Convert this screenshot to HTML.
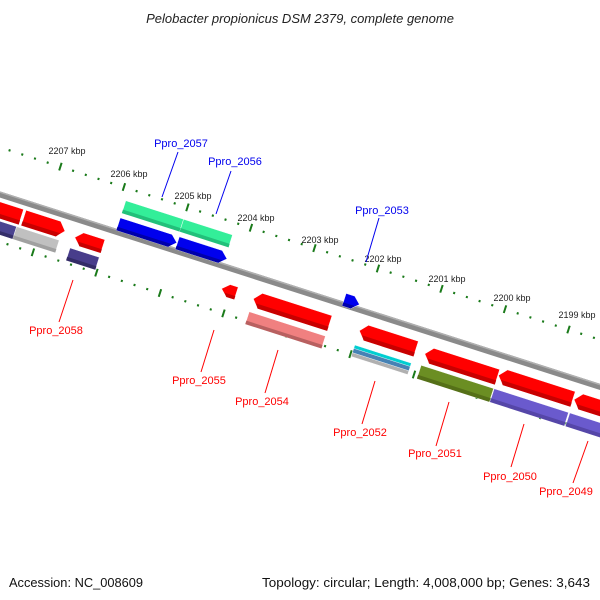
<!DOCTYPE html>
<html><head><meta charset="utf-8"><style>
html,body{margin:0;padding:0;background:#fff;}
svg{display:block;font-family:"Liberation Sans","DejaVu Sans",sans-serif;}
</style></head><body>
<svg id="chart" width="600" height="600" viewBox="0 0 600 600" xmlns="http://www.w3.org/2000/svg">
<rect width="600" height="600" fill="#fff"/>
<text x="300" y="23" text-anchor="middle" font-size="13" font-style="italic" fill="#222">Pelobacter propionicus DSM 2379, complete genome</text>
<g id="rot" transform="translate(0,194.5) rotate(17.78)"></g>
<g id="labels"></g>
<text x="9" y="587" font-size="13" fill="#111" textLength="134" lengthAdjust="spacingAndGlyphs">Accession: NC_008609</text>
<text x="262" y="587" font-size="13" fill="#111" textLength="328" lengthAdjust="spacingAndGlyphs">Topology: circular; Length: 4,008,000 bp; Genes: 3,643</text>
</svg>
<script>
const kbpTicks=[2207,2206,2205,2204,2203,2202,2201,2200,2199];
const kbpLabelPos=[[67,154],[129,177],[193,199],[256,221],[320,243],[383,262],[447,282],[512,301],[577,318]];
const geneStart=[2208.7,2207.29,2208.7,2207.35,2206.47,2206.49,2205.91,2205.0,2205.91,2204.98,2204.14,2203.64,2203.64,2202.34,2201.98,2201.98,2201.98,2201.98,2200.94,2200.94,2199.79,2199.79,2198.60,2198.60];
const geneEnd=[2207.33,2206.64,2207.35,2206.68,2206.03,2206.03,2205.0,2204.23,2204.99,2204.20,2203.91,2202.44,2202.44,2202.10,2201.09,2201.09,2201.09,2201.09,2199.80,2199.80,2198.62,2198.62,2196.9,2196.9];
const geneTrack=[15,15,32,32,18,36,-26,-26,-8,-8,22,22,42,-5,20,37,41,45,22,41,20,41,20,41];
const geneHeight=[16,16,13,13,14,13,13,13,13,13,13,16,13,13,16,4,5,4,16,14,16,14,16,14];
const geneDir=[0,1,0,0,-1,0,0,0,1,1,-1,-1,0,1,-1,0,0,0,-1,0,-1,0,-1,0];
const geneColor=["#ff0000","#ff0000","#4b4490","#c0c0c0","#ff0000","#483d8b","#33ee99","#33ee99","#0000ee","#0000ee","#ff0000","#ff0000","#f08080","#0000ee","#ff0000","#00ced1","#4682b4","#b0b0b0","#ff0000","#6b8e23","#ff0000","#6a5acd","#ff0000","#6a5acd"];
const geneDark=["#c80000","#c80000","#352f6a","#a0a0a0","#c80000","#332b66","#22c07a","#22c07a","#0000aa","#0000aa","#c80000","#c80000","#b86060","#0000aa","#c80000","#00aab0","#36648b","#909090","#c80000","#557018","#c80000","#5546a8","#c80000","#5546a8"];
const labelNames=["Ppro_2057","Ppro_2056","Ppro_2053","Ppro_2058","Ppro_2055","Ppro_2054","Ppro_2052","Ppro_2051","Ppro_2050","Ppro_2049"];
const labelColor=["#0000ee","#0000ee","#0000ee","#ff0000","#ff0000","#ff0000","#ff0000","#ff0000","#ff0000","#ff0000"];
const labelText=[[181,147],[235,165],[382,214],[56,334],[199,384],[262,405],[360,436],[435,457],[510,480],[566,495]];
const labelLine=[[178,152,162,197],[231,171,216,214],[379,218,366,262],[73,280,59,322],[214,330,201,372],[278,350,265,393],[375,381,362,424],[449,402,436,446],[524,424,511,467],[588,441,573,483]];

const NS="http://www.w3.org/2000/svg";
const rot=document.getElementById('rot'), lab=document.getElementById('labels');
function U(k){return 49+(2207-k)*66.7;}
function mk(tag,attrs,parent){const e=document.createElementNS(NS,tag);for(const a in attrs)e.setAttribute(a,attrs[a]);parent.appendChild(e);return e;}

let bb=mk('rect',{x:-100,y:-3,width:900,height:6,fill:'#8a8a8a'},rot);


let bbh=mk('rect',{x:-100,y:-3,width:900,height:1.5,fill:'#b0b0b0'},rot);



for(let k=2210;k>=2195;k-=0.2){
  const kk=Math.round(k*10)/10;
  const u=U(kk);
  const major=Math.abs(kk-Math.round(kk))<0.01;
  [-45,45].forEach(v=>{
    let t;
    if(major) t=mk('rect',{x:u-1,y:v-4,width:2,height:8,fill:'#1a7a1a'},rot);
    else t=mk('rect',{x:u-1,y:v-1,width:2,height:2.2,fill:'#1a7a1a'},rot);
    
    
  });
}
kbpTicks.forEach((k,i)=>{
  const t=mk('text',{x:kbpLabelPos[i][0],y:kbpLabelPos[i][1],'text-anchor':'middle','font-size':'9',fill:'#222'},lab);
  t.textContent=k+' kbp';
  
  
});

geneStart.forEach((s,i)=>{
  const u0=U(s),u1=U(geneEnd[i]);const h=geneHeight[i];const top=geneTrack[i]-h/2,bot=top+h,mid=geneTrack[i];
  const a=Math.min(7,(u1-u0)/2);const d=geneDir[i];
  let pts;
  if(d===1) pts=[[u0,top],[u1-a,top],[u1,mid],[u1-a,bot],[u0,bot]];
  else if(d===-1) pts=[[u0+a,top],[u1,top],[u1,bot],[u0+a,bot],[u0,mid]];
  else pts=[[u0,top],[u1,top],[u1,bot],[u0,bot]];
  const g=mk('g',{},rot);
  
  
  mk('polygon',{points:pts.map(p=>p.join(',')).join(' '),fill:geneColor[i],stroke:'#fff','stroke-width':'0.4'},g);
  if(h>8){
    const sh=h*0.28;
    const sp=d===1?[[u0,bot-sh],[u1-a*(sh/(h/2)),bot-sh],[u1-a,bot],[u0,bot]]:
             d===-1?[[u0+a*(sh/(h/2)),bot-sh],[u1,bot-sh],[u1,bot],[u0+a,bot]]:
             [[u0,bot-sh],[u1,bot-sh],[u1,bot],[u0,bot]];
    mk('polygon',{points:sp.map(p=>p.join(',')).join(' '),fill:geneDark[i]},g);
  }
});

labelNames.forEach((n,i)=>{
  const l=labelLine[i];
  const ln=mk('line',{x1:l[0],y1:l[1],x2:l[2],y2:l[3],stroke:labelColor[i],'stroke-width':'1'},lab);
  
  
  const t=mk('text',{x:labelText[i][0],y:labelText[i][1],'text-anchor':'middle','font-size':'11',fill:labelColor[i]},lab);
  t.textContent=n;
  
  
});
</script>
</body></html>
